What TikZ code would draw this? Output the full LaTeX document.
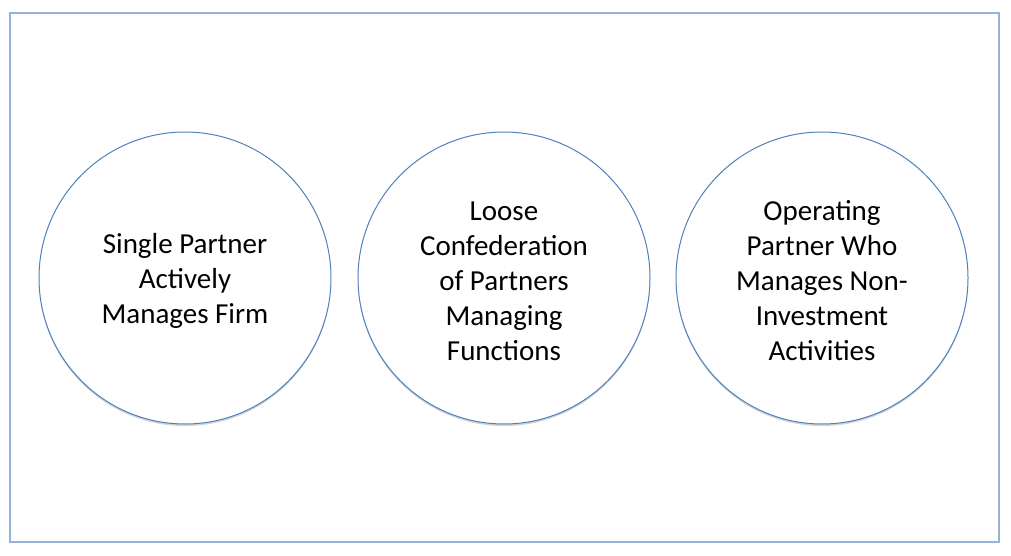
\documentclass[tikz,border=0pt]{standalone}
\usepackage{fontspec}
\setmainfont{Carlito}
\usetikzlibrary{shadows,shapes.geometric}
\definecolor{rectblue}{HTML}{95B3D7}
\definecolor{circblue}{HTML}{4F81BD}
\tikzset{
  bubble/.style={circle, draw=circblue, line width=1pt, fill=white, minimum size=292pt, inner sep=0pt,
    drop shadow={shadow xshift=0pt, shadow yshift=-2pt, opacity=0.35, fill=black!50}},
  bubbletext/.style={align=center, inner sep=0pt, font=\fontsize{29}{35}\selectfont},
  frame/.style={draw=rectblue, line width=2pt}
}
\begin{document}
\begin{tikzpicture}[x=1pt,y=-1pt]
\useasboundingbox (0,0) rectangle (1011,556);
\draw[frame] (10,13) rectangle (999,542);
\node[bubble] (a) at (185,278) {};
\node[bubble] (b) at (504,278) {};
\node[bubble] (c) at (822,278) {};
\node[bubbletext] (ta) at ([yshift=-3pt]a.center) {Single Partner\\Actively\\Manages Firm};
\node[bubbletext] (tb) at ([yshift=-3pt]b.center) {Loose\\Confederation\\of Partners\\Managing\\Functions};
\node[bubbletext] (tc) at ([yshift=-3pt]c.center) {Operating\\Partner Who\\Manages Non-\\Investment\\Activities};
\end{tikzpicture}
\end{document}
